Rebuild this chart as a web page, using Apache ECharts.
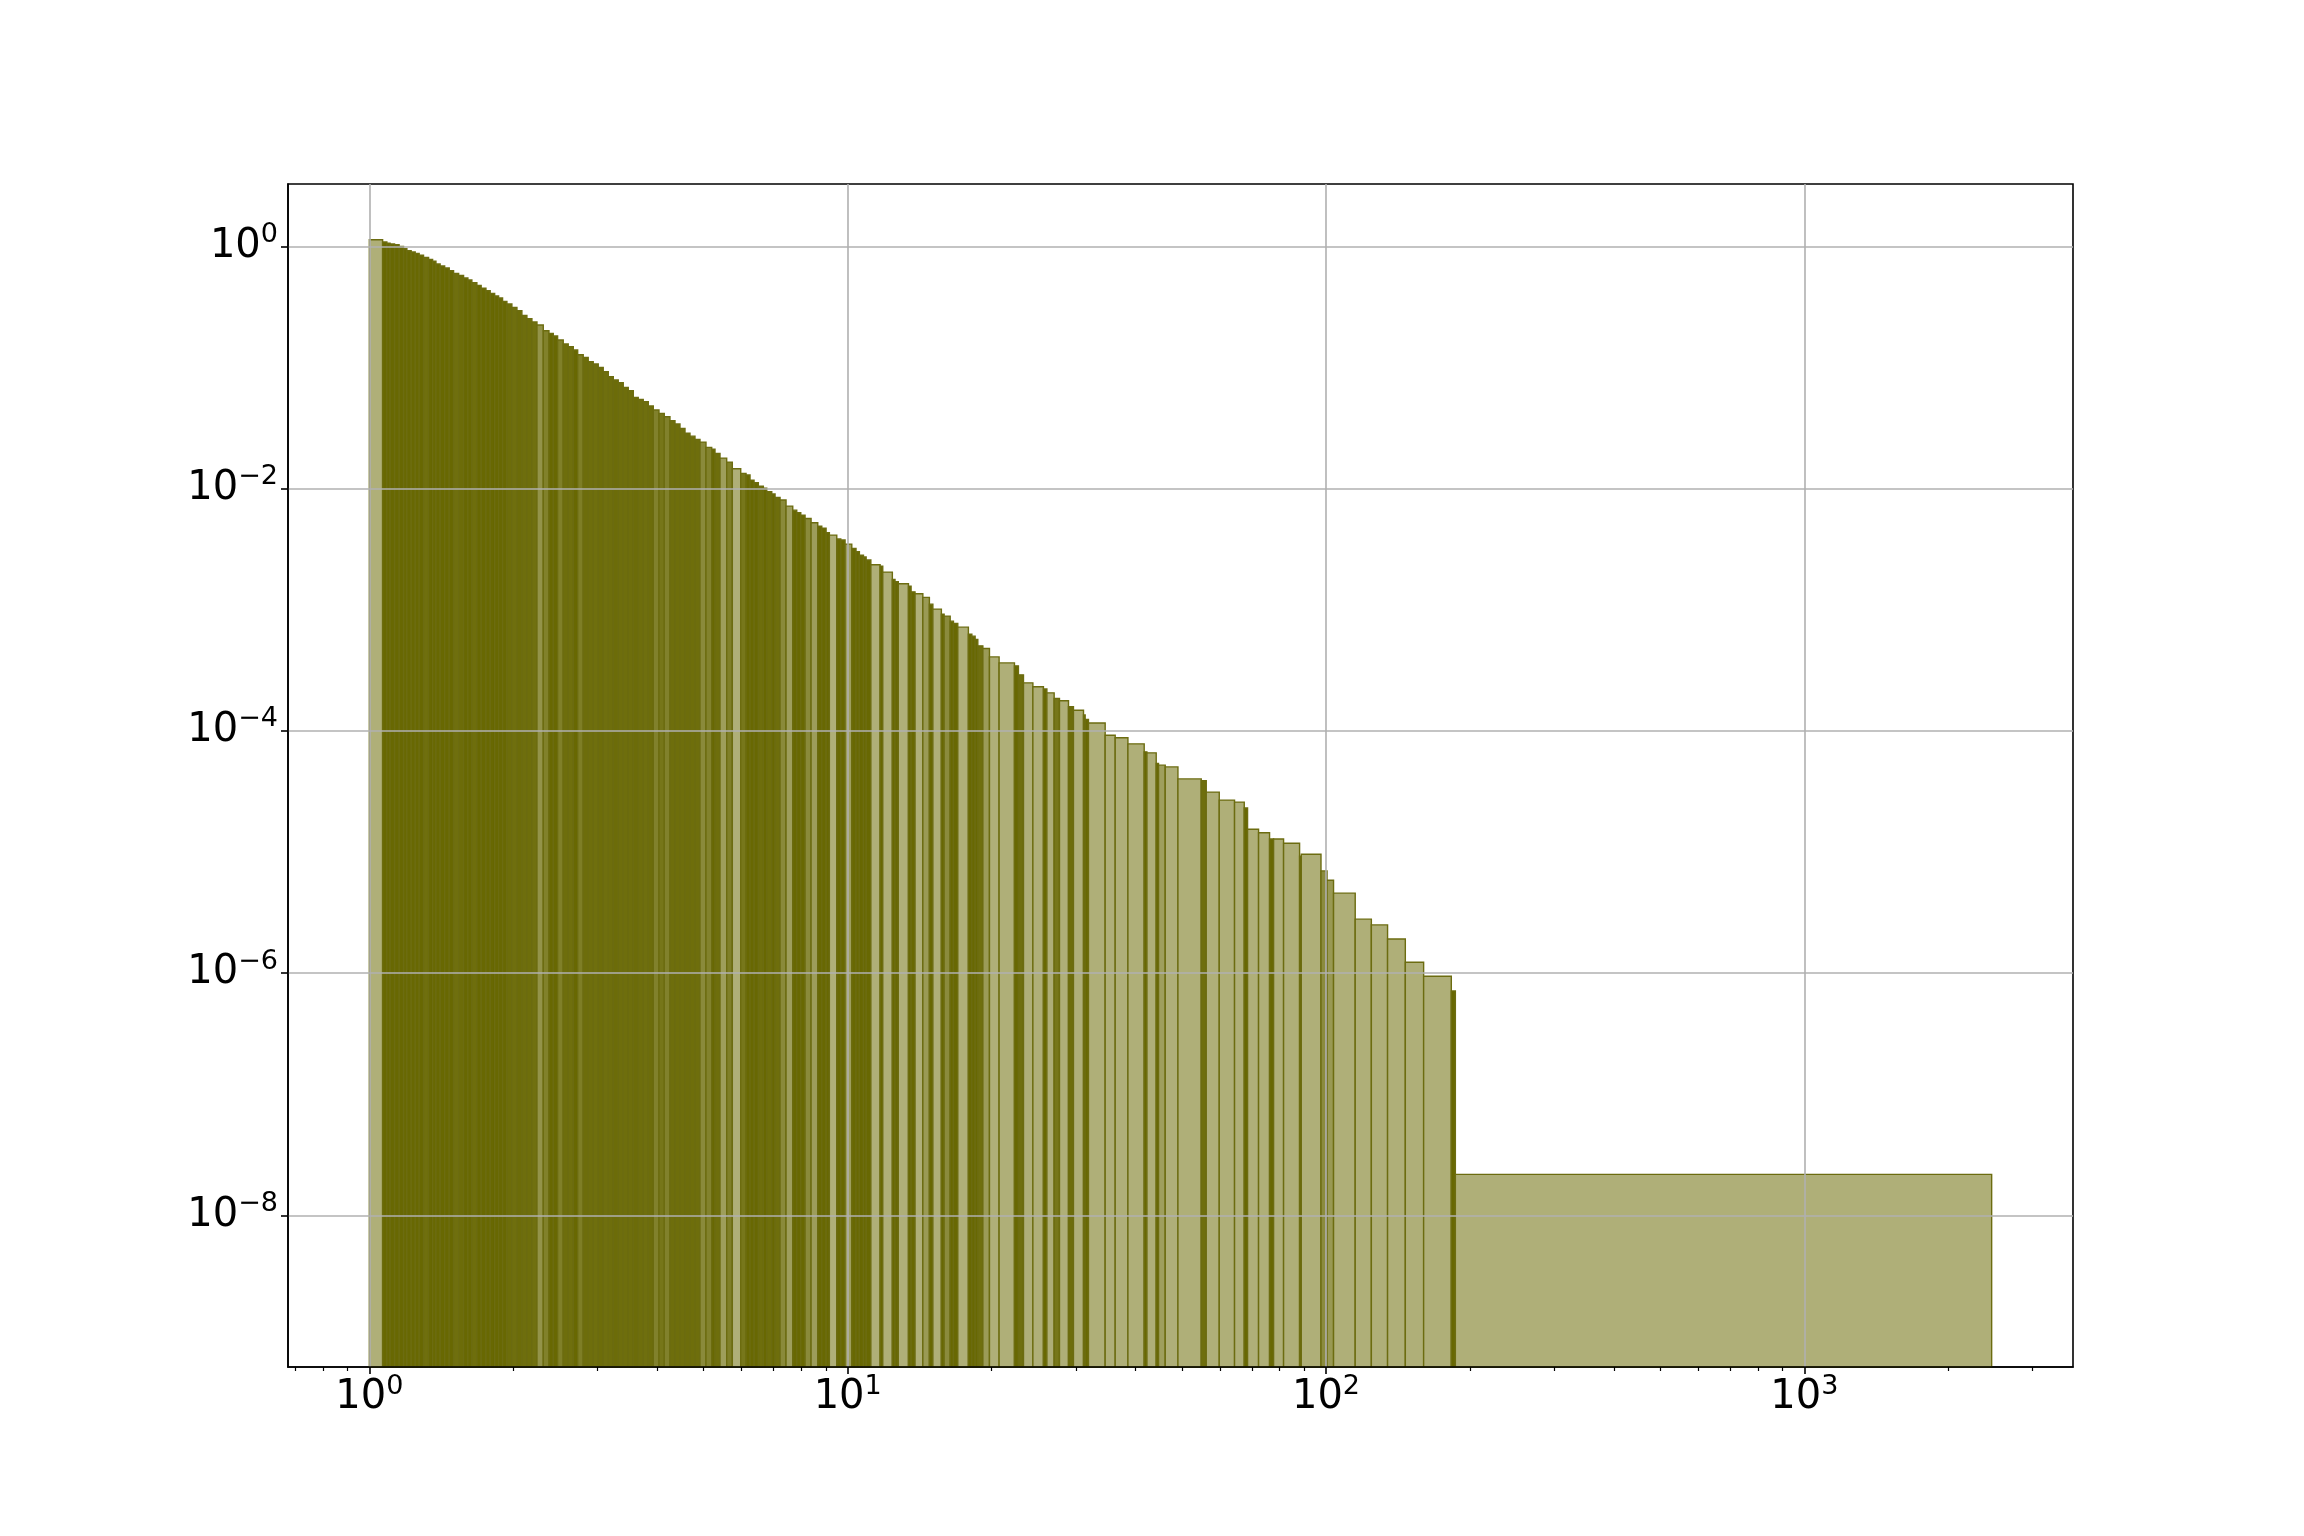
<!DOCTYPE html>
<html>
<head>
<meta charset="utf-8">
<script src="https://cdn.jsdelivr.net/npm/echarts@6/dist/echarts.min.js"></script>
<style>
html, body { margin: 0; padding: 0; background: #fff; }
#grafico { width: 2304px; height: 1536px; }
</style>
</head>
<body>
<div id="grafico"></div>
<script>
// histogram bin edges (x) and bar heights (y)
var binEdges = [
    1.000, 1.066, 1.088, 1.105, 1.129, 1.154, 1.179, 1.198, 1.223, 1.247,
    1.271, 1.298, 1.330, 1.356, 1.378, 1.406, 1.437, 1.469, 1.500, 1.537,
    1.574, 1.607, 1.638, 1.678, 1.713, 1.753, 1.789, 1.828, 1.863, 1.899,
    1.939, 1.986, 2.035, 2.084, 2.135, 2.187, 2.241, 2.310, 2.374, 2.424,
    2.475, 2.543, 2.605, 2.669, 2.726, 2.800, 2.868, 2.938, 3.010, 3.083,
    3.159, 3.236, 3.314, 3.395, 3.478, 3.563, 3.649, 3.738, 3.830, 3.923,
    4.032, 4.136, 4.251, 4.355, 4.461, 4.570, 4.681, 4.795, 4.912, 5.056,
    5.197, 5.280, 5.409, 5.586, 5.739, 5.976, 6.131, 6.250, 6.372, 6.505,
    6.664, 6.774, 6.939, 7.050, 7.222, 7.433, 7.677, 7.826, 7.979, 8.146,
    8.385, 8.659, 8.828, 9.013, 9.157, 9.489, 9.674, 9.876, 10.20, 10.41,
    10.58, 10.79, 10.93, 11.18, 11.69, 11.84, 12.40, 12.56, 12.76, 13.40,
    13.57, 13.83, 14.36, 14.82, 15.07, 15.70, 15.91, 16.38, 16.64, 16.99,
    17.88, 18.18, 18.47, 18.71, 19.17, 19.79, 20.73, 22.32, 22.75, 23.31,
    24.39, 25.66, 26.09, 27.02, 27.72, 28.95, 29.65, 31.12, 31.37, 31.87,
    34.54, 36.25, 38.54, 41.68, 42.23, 44.16, 44.65, 46.12, 49.03, 54.85,
    56.19, 59.82, 64.39, 67.47, 68.55, 72.28, 76.21, 77.70, 81.53, 88.06,
    88.79, 97.62, 100.5, 103.7, 115.1, 124.4, 134.5, 146.5, 160.0, 182.8,
    186.4, 2464
];
var binHeights = [
    1.134, 1.085, 1.059, 1.045, 1.031, 1.000, 0.955, 0.920, 0.897, 0.875,
    0.843, 0.811, 0.781, 0.752, 0.714, 0.688, 0.662, 0.629, 0.598, 0.576,
    0.547, 0.527, 0.500, 0.476, 0.452, 0.430, 0.409, 0.389, 0.374, 0.351,
    0.334, 0.3135, 0.2938, 0.2693, 0.2524, 0.2371, 0.2239, 0.2009, 0.1912, 0.1817,
    0.1684, 0.1560, 0.1482, 0.1392, 0.1273, 0.1212, 0.1114, 0.1067, 0.1002, 0.0922,
    0.0838, 0.0787, 0.0747, 0.0685, 0.0642, 0.0566, 0.0545, 0.0521, 0.0480, 0.0445,
    0.0418, 0.0392, 0.0363, 0.0341, 0.0314, 0.0286, 0.0271, 0.0255, 0.0242, 0.0219,
    0.0211, 0.0195, 0.01786, 0.01655, 0.01457, 0.01335, 0.01293, 0.01175, 0.01116, 0.01048,
    0.01009, 0.00941, 0.00901, 0.00846, 0.00804, 0.00717, 0.00664, 0.00631, 0.00604, 0.00567,
    0.00522, 0.00490, 0.00472, 0.00432, 0.00413, 0.00383, 0.00376, 0.00348, 0.00321, 0.00301,
    0.00282, 0.00273, 0.00257, 0.002349, 0.002291, 0.002044, 0.001779, 0.001700, 0.001636, 0.001566,
    0.001405, 0.001353, 0.001264, 0.001112, 0.001012, 0.000920, 0.000886, 0.000805, 0.000770, 0.000718,
    0.000629, 0.000605, 0.000568, 0.000503, 0.000479, 0.000408, 0.000364, 0.000344, 0.000290, 0.000249,
    0.000231, 0.000222, 0.000206, 0.000185, 0.000177, 0.000158, 0.000148, 0.000135, 0.000124, 0.000116,
    9.21e-5, 8.76e-5, 7.81e-5, 6.71e-5, 6.58e-5, 5.38e-5, 5.21e-5, 5.04e-5, 4.01e-5, 3.87e-5,
    3.12e-5, 2.68e-5, 2.58e-5, 2.31e-5, 1.54e-5, 1.44e-5, 1.28e-5, 1.28e-5, 1.18e-5, 9.23e-6,
    9.59e-6, 6.98e-6, 5.85e-6, 4.57e-6, 2.79e-6, 2.50e-6, 1.91e-6, 1.23e-6, 9.43e-7, 7.13e-7,
    2.18e-8
];
var xTickValues = [1, 10, 100, 1000];
var xMinorTickValues = [0.7, 0.8, 0.9, 2, 3, 4, 5, 6, 7, 8, 9,
    20, 30, 40, 50, 60, 70, 80, 90, 200, 300, 400, 500, 600, 700, 800, 900, 2000, 3000];
var yTickValues = [1e-8, 1e-6, 1e-4, 1e-2, 1];
var xRange = [0.676, 3645];
var yRange = [5.6e-10, 3.27];

var bars = [];
for (var i = 0; i < binHeights.length; i++) {
    bars.push([binEdges[i], binEdges[i + 1], binHeights[i]]);
}

var dark = [104, 104, 2];
var light = [175, 175, 120];
// very narrow bins show mostly edge colour, as in the original
function fillFor(w) {
    var t = Math.max(0, Math.min(1, (w - 4.8) / 2.5));
    var c = [];
    for (var k = 0; k < 3; k++) c.push(Math.round(dark[k] + (light[k] - dark[k]) * t));
    return 'rgb(' + c.join(',') + ')';
}

function powLabel(v) {
    var e = Math.round(Math.log(v) / Math.LN10);
    return '{b|10}{s|' + (e < 0 ? '\u2212' + (-e) : e) + '}';
}

var labelRich = {
    b: { fontFamily: 'DejaVu Sans', fontSize: 40, lineHeight: 50, color: '#000' },
    s: { fontFamily: 'DejaVu Sans', fontSize: 27, lineHeight: 27, verticalAlign: 'top', color: '#000' }
};

var dom = document.getElementById("grafico");
var myChart = echarts.init(dom);
var option = {
    backgroundColor: '#fff',
    animation: false,
    grid: {
        left: 288, right: 231, top: 184, bottom: 169,
        show: true, borderColor: '#000', borderWidth: 1.6, backgroundColor: '#fff'
    },
    xAxis: [
        {
            type: 'log', min: xRange[0], max: xRange[1], position: 'bottom', z: 5,
            axisLine: { show: true, lineStyle: { color: '#000', width: 1.6 } },
            axisTick: { show: true, length: 7, lineStyle: { color: '#000', width: 1.6 }, customValues: xTickValues },
            axisLabel: { show: true, margin: 6, formatter: powLabel, rich: labelRich, customValues: xTickValues },
            splitLine: { show: true, lineStyle: { color: '#b0b0b0', width: 1.6 } },
            minorTick: { show: false }
        },
        {
            type: 'log', min: xRange[0], max: xRange[1], position: 'bottom', z: 5,
            axisLine: { show: false },
            axisTick: { show: true, length: 4, lineStyle: { color: '#000', width: 1.2 }, customValues: xMinorTickValues },
            axisLabel: { show: false },
            splitLine: { show: false }
        }
    ],
    yAxis: {
        type: 'log', min: yRange[0], max: yRange[1], z: 5,
        axisLine: { show: true, lineStyle: { color: '#000', width: 1.6 } },
        axisTick: { show: true, length: 7, lineStyle: { color: '#000', width: 1.6 }, customValues: yTickValues },
        axisLabel: { show: true, margin: 10, formatter: powLabel, rich: labelRich, customValues: yTickValues },
        splitLine: { show: true, lineStyle: { color: '#b0b0b0', width: 1.6 } }
    },
    series: [
        {
            type: 'custom',
            xAxisIndex: 0,
            yAxisIndex: 0,
            encode: { x: [0, 1], y: 2 },
            data: bars,
            renderItem: function (params, api) {
                var p0 = api.coord([api.value(0), api.value(2)]);
                var p1 = api.coord([api.value(1), yRange[0]]);
                var w = p1[0] - p0[0];
                return {
                    type: 'rect',
                    shape: { x: p0[0], y: p0[1], width: w, height: p1[1] - p0[1] },
                    style: { fill: fillFor(w), stroke: '#6c6c10', lineWidth: 1.4 }
                };
            }
        }
    ]
};
if (option && typeof option === "object") {
    myChart.setOption(option, true);
}
</script>
</body>
</html>
